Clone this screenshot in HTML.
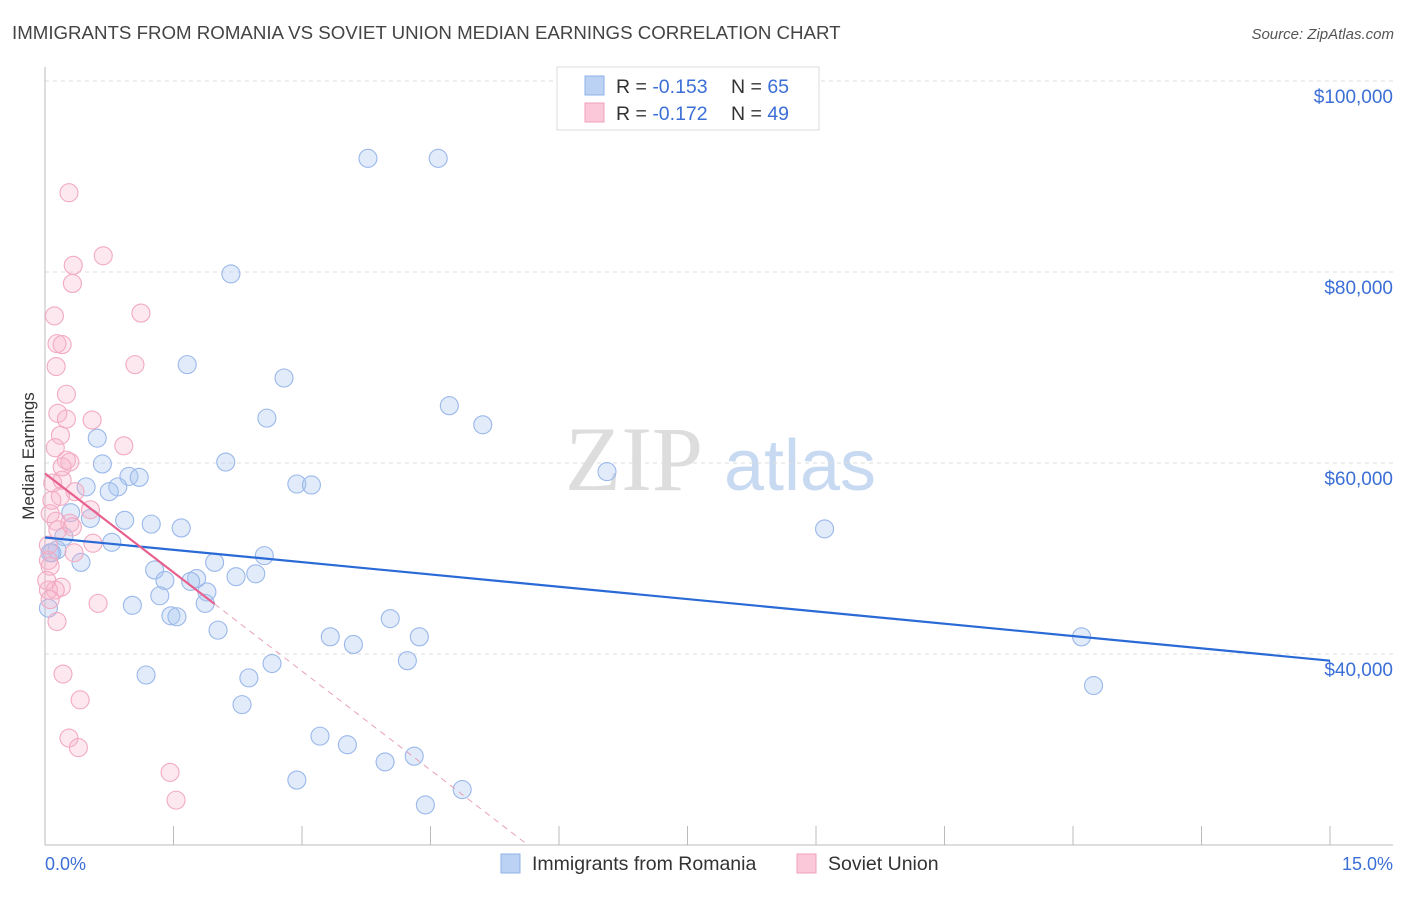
<!DOCTYPE html>
<html><head><meta charset="utf-8"><style>
body{margin:0;background:#fff;font-family:"Liberation Sans",sans-serif;}
</style></head><body>
<svg id="chart" width="1406" height="892" xmlns="http://www.w3.org/2000/svg" font-family="Liberation Sans, sans-serif">
<text x="12" y="39" font-size="18.7" fill="#444">IMMIGRANTS FROM ROMANIA VS SOVIET UNION MEDIAN EARNINGS CORRELATION CHART</text>
<text x="1394" y="39" font-size="15" fill="#555" text-anchor="end" font-style="italic">Source: ZipAtlas.com</text>
<g>
<text x="634" y="490" font-size="92" fill="#ddd" font-family="Liberation Serif, serif" text-anchor="middle">ZIP</text>
<text x="800" y="490" font-size="72" fill="#c8d9f2" text-anchor="middle">atlas</text>
</g>
<g id="grid"></g>
<g id="axes"></g>
<g id="pts"></g>
<g id="trend"></g>
<text transform="translate(34,456) rotate(-90)" font-size="17" fill="#333" text-anchor="middle">Median Earnings</text>
<g>
<rect x="557" y="67" width="262" height="63" fill="#fff" stroke="#ddd"/>
<rect x="585" y="76" width="19" height="19" fill="#bcd2f5" stroke="#8fb0e8"/>
<rect x="585" y="103" width="19" height="19" fill="#fac8d8" stroke="#f0a0bb"/>
<text x="616" y="93" font-size="19.5" fill="#333">R = <tspan fill="#3b6fd6">-0.153</tspan></text>
<text x="731" y="93" font-size="19.5" fill="#333">N = <tspan fill="#3b6fd6">65</tspan></text>
<text x="616" y="120" font-size="19.5" fill="#333">R = <tspan fill="#3b6fd6">-0.172</tspan></text>
<text x="731" y="120" font-size="19.5" fill="#333">N = <tspan fill="#3b6fd6">49</tspan></text>
</g>
<g>
<rect x="501" y="854" width="19" height="19" fill="#bcd2f5" stroke="#8fb0e8"/>
<text x="532" y="870" font-size="19.5" fill="#333">Immigrants from Romania</text>
<rect x="797" y="854" width="19" height="19" fill="#fac8d8" stroke="#f0a0bb"/>
<text x="828" y="870" font-size="19.5" fill="#333">Soviet Union</text>
</g>
</svg>
<script>
const yTicks=[100000,80000,60000,40000];
const yTickLabels=["$100,000","$80,000","$60,000","$40,000"];
const xTicks=[0,1.5,3,4.5,6,7.5,9,10.5,12,13.5,15];
const xEndLabels=["0.0%","15.0%"];
const romaniaX=[3.77,4.59,2.17,1.66,2.79,4.72,2.59,5.11,0.61,2.11,0.67,6.56,0.98,1.10,0.85,0.48,2.94,3.11,0.75,0.30,0.53,0.93,1.24,1.59,9.10,0.22,0.78,0.14,0.08,2.56,1.98,0.42,1.28,2.46,2.23,1.40,1.77,1.70,1.89,1.34,1.02,1.87,1.47,1.54,2.02,3.33,4.37,3.60,12.10,4.03,2.65,4.23,1.18,2.38,12.24,2.30,3.21,3.53,4.31,3.97,2.94,4.87,4.44,0.04,0.06];
const romaniaY=[91.9,91.9,79.8,70.3,68.9,66.0,64.7,64.0,62.6,60.1,59.9,59.1,58.6,58.5,57.5,57.5,57.8,57.7,57.0,54.8,54.2,54.0,53.6,53.2,53.1,52.3,51.7,50.9,50.6,50.3,49.6,49.6,48.8,48.4,48.1,47.7,47.9,47.6,46.5,46.1,45.1,45.3,44.0,43.9,42.5,41.8,41.8,41.0,41.8,43.7,39.0,39.3,37.8,37.5,36.7,34.7,31.4,30.5,29.3,28.7,26.8,25.8,24.2,44.8,50.6];
const sovietX=[0.28,0.68,0.33,0.32,1.12,0.11,0.14,0.20,1.05,0.13,0.25,0.15,0.25,0.55,0.92,0.18,0.12,0.29,0.20,0.09,0.35,0.18,0.53,0.06,0.13,0.29,0.32,0.56,0.34,0.04,0.06,0.19,0.12,0.62,0.04,0.14,0.21,0.41,0.28,0.39,1.46,1.53,0.06,0.02,0.04,0.08,0.15,0.20,0.25];
const sovietY=[88.3,81.7,80.7,78.8,75.7,75.4,72.5,72.4,70.3,70.1,67.2,65.2,64.6,64.5,61.8,62.9,61.6,60.1,59.6,57.9,57.0,56.5,55.1,54.7,53.9,53.7,53.3,51.6,50.6,49.8,49.2,47.0,46.7,45.3,46.7,43.4,37.9,35.2,31.2,30.2,27.6,24.7,45.7,47.7,51.4,56.1,53.0,58.2,60.3];
const romaniaTrend=[52.2,39.3];
const sovietTrend=[58.9,-6.9];
const NS="http://www.w3.org/2000/svg";
const X=v=>45+v/15*1285;
const Y=k=>81+(100-k)/20*191;
function mk(p,t,a){const e=document.createElementNS(NS,t);for(const k in a)e.setAttribute(k,a[k]);p.appendChild(e);return e;}
const grid=document.getElementById('grid'),axes=document.getElementById('axes');
yTicks.forEach((v,i)=>{
 const l=mk(grid,'line',{x1:45,x2:1393,y1:Y(v/1000),y2:Y(v/1000),stroke:'#ddd','stroke-dasharray':'4,4'});
 
 
 const t=mk(axes,'text',{x:1393,y:Y(v/1000)+22,'font-size':19,fill:'#3b6fd6','text-anchor':'end'});
 t.textContent=yTickLabels[i];
 
 
});
mk(axes,'line',{x1:45,x2:45,y1:67,y2:845,stroke:'#bbb'});
mk(axes,'line',{x1:45,x2:1393,y1:845,y2:845,stroke:'#bbb'});
xTicks.forEach(v=>{const l=mk(axes,'line',{x1:X(v),x2:X(v),y1:826,y2:845,stroke:'#bbb'});
 
 });
const t0=mk(axes,'text',{x:45,y:870,'font-size':18,fill:'#3b6fd6'});t0.textContent=xEndLabels[0];


const t1=mk(axes,'text',{x:1393,y:870,'font-size':18,fill:'#3b6fd6','text-anchor':'end'});t1.textContent=xEndLabels[1];


const pts=document.getElementById('pts');
romaniaX.forEach((x,i)=>{const c=mk(pts,'circle',{cx:X(x),cy:Y(romaniaY[i]),r:9,fill:'rgba(170,198,242,0.35)',stroke:'#9ab8ea','stroke-width':1.1});
 
 });
sovietX.forEach((x,i)=>{const c=mk(pts,'circle',{cx:X(x),cy:Y(sovietY[i]),r:9,fill:'rgba(247,180,202,0.3)',stroke:'#f2aac2','stroke-width':1.1});
 
 });
const tr=document.getElementById('trend');
const bl=mk(tr,'line',{x1:X(0),y1:Y(romaniaTrend[0]),x2:X(15),y2:Y(romaniaTrend[1]),stroke:'#2a6ad6','stroke-width':2.2});


const xs=1.98,xe=(sovietTrend[0]-20)/-sovietTrend[1];
const pd=mk(tr,'line',{x1:X(xs),y1:Y(sovietTrend[0]+sovietTrend[1]*xs),x2:X(xe),y2:Y(20),stroke:'#e8a0b8','stroke-width':1,'stroke-dasharray':'6,5'});


const ps=mk(tr,'line',{x1:X(0),y1:Y(sovietTrend[0]),x2:X(xs),y2:Y(sovietTrend[0]+sovietTrend[1]*xs),stroke:'#e8608e','stroke-width':2.2});


</script>
</body></html>
